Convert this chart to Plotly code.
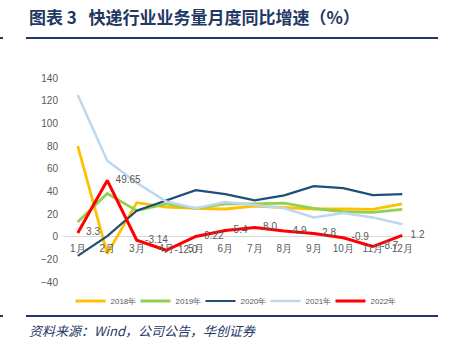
import plotly.graph_objects as go

months = ["1月", "2月", "3月", "4月", "5月", "6月", "7月", "8月", "9月", "10月", "11月", "12月"]
y2018 = [80, -15, 30, 26, 25, 24.4, 27, 26, 24.4, 24.5, 24, 29]
y2019 = [13, 38, 23, 29, 25, 29, 29, 29.6, 25, 22, 21.5, 24]
y2020 = [-17, 0.5, 23, 32, 41, 37.5, 32, 36.4, 44.6, 42.8, 36.7, 37.6]
y2021 = [125, 67, 47.5, 31, 25, 30.5, 28, 25, 17, 20.8, 17, 11]
y2022 = [3.3, 49.65, -3.14, -12.0, 0.22, 5.4, 8.0, 4.9, 2.8, -0.9, -8.7, 1.2]
labels2022 = ["3.3", "49.65", "-3.14", "-12.0", "0.22", "5.4", "8.0", "4.9", "2.8", "-0.9", "-8.7", "1.2"]

series = [
    ("2018年", y2018, "#FFC000", 2.8),
    ("2019年", y2019, "#92D050", 2.8),
    ("2020年", y2020, "#1F4E79", 2.2),
    ("2021年", y2021, "#BDD7EE", 2.5),
]

W, H = 449, 354
L, R, T, B = 63, 417, 78, 282

def px(x):
    return (x - L) / (R - L)

def py(y):
    return (B - y) / (B - T)

fig = go.Figure()
for name, ys, col, w in series:
    fig.add_trace(go.Scatter(x=months, y=ys, name=name, mode="lines",
                             line=dict(color=col, width=w)))
fig.add_trace(go.Scatter(x=months, y=y2022, name="2022年", mode="lines+text",
                         text=["   " + t for t in labels2022], textposition="middle right",
                         textfont=dict(size=10, color="#595959", family="Liberation Sans"),
                         line=dict(color="#FF0000", width=3), cliponaxis=False))

ax_font = dict(size=10, color="#595959", family="Liberation Sans")
fig.update_layout(
    width=W, height=H,
    margin=dict(l=L, r=W - R, t=T, b=H - B),
    paper_bgcolor="white", plot_bgcolor="white",
    showlegend=True,
    legend=dict(orientation="h", x=px(233), xanchor="center", y=py(301), yanchor="middle",
                font=dict(size=8, color="#595959", family="Liberation Sans"),
                itemwidth=30, entrywidth=20, entrywidthmode="pixels",
                bgcolor="rgba(0,0,0,0)"),
    xaxis=dict(type="category", range=[-0.5, 11.5], showgrid=False, showline=False,
               anchor="free", position=40 / 180, ticks="", tickfont=ax_font,
               zeroline=False, ticklabelstandoff=4),
    yaxis=dict(range=[-40, 140], dtick=20, showgrid=False, zeroline=True,
               zerolinecolor="#D9D9D9", zerolinewidth=1, showline=False,
               tickfont=ax_font, ticks="", domain=[0, 1], ticklabelstandoff=4),
    annotations=[
        dict(text="<b>图表 3   快递行业业务量月度同比增速（%）</b>", xref="paper", yref="paper",
             x=px(27), y=py(17), xanchor="left", yanchor="middle", showarrow=False,
             font=dict(size=17, color="#1F3864", family="Noto Sans CJK SC")),
        dict(text="<i>资料来源：Wind，公司公告，华创证券</i>", xref="paper", yref="paper",
             x=px(27), y=py(330), xanchor="left", yanchor="middle", showarrow=False,
             font=dict(size=13, color="#1F3864", family="Noto Sans CJK SC")),
    ],
    shapes=[
        dict(type="line", xref="paper", yref="paper", x0=px(26), x1=px(438), y0=py(38), y1=py(38),
             line=dict(color="#1F3864", width=2)),
        dict(type="line", xref="paper", yref="paper", x0=px(26), x1=px(438), y0=py(316), y1=py(316),
             line=dict(color="#1F3864", width=2)),
        dict(type="line", xref="paper", yref="paper", x0=px(0), x1=px(3), y0=py(38), y1=py(38),
             line=dict(color="#1F3864", width=2)),
        dict(type="line", xref="paper", yref="paper", x0=px(0), x1=px(3), y0=py(316), y1=py(316),
             line=dict(color="#1F3864", width=2)),
    ],
)

fig.write_html("out.html")
